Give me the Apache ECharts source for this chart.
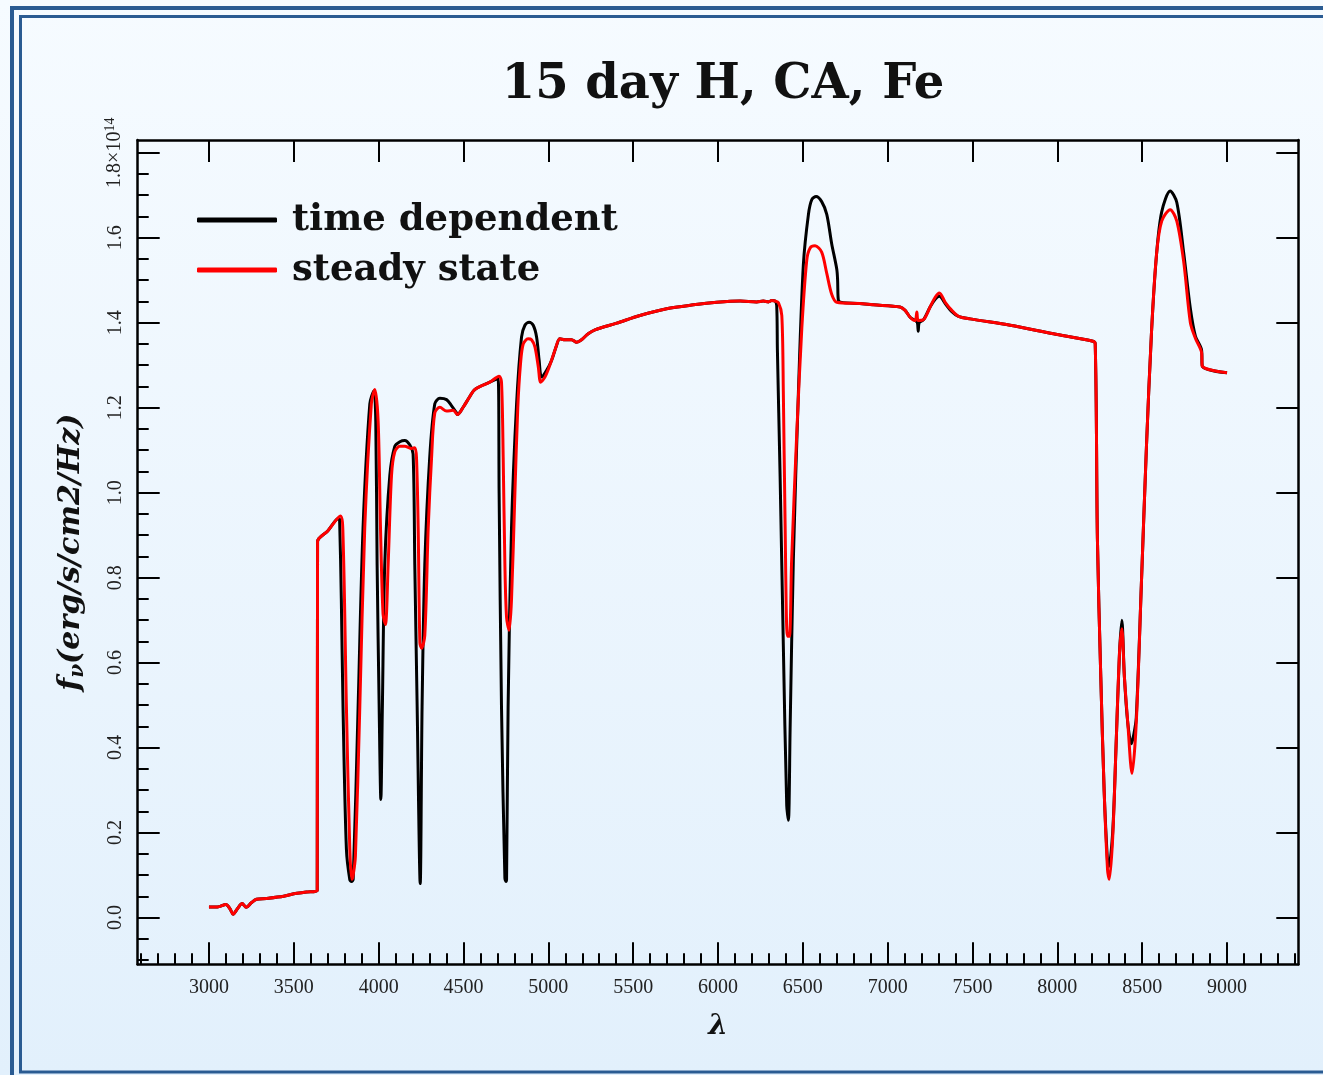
<!DOCTYPE html>
<html>
<head>
<meta charset="utf-8">
<script src="https://cdn.jsdelivr.net/npm/echarts@6/dist/echarts.min.js"></script>
<style>
  html, body { margin: 0; padding: 0; }
  #chart { width: 1323px; height: 1075px; }
</style>
</head>
<body>
<div id="chart"></div>
<script>
// wavelength (Angstrom) / flux (x1e14)
const tdWave = [3000, 3050, 3100, 3125, 3142, 3170, 3195, 3220, 3250, 3280, 3340, 3440, 3500, 3575, 3638,
  3640, 3700, 3765, 3770, 3780, 3790, 3810, 3830, 3840, 3850, 3879, 3908, 3948, 3972, 3983, 3991, 4003, 4013,
  4022, 4036, 4066, 4095, 4125, 4154, 4184, 4203, 4213, 4227, 4245, 4256, 4272, 4301, 4331, 4361, 4400, 4429,
  4459, 4465, 4498, 4537, 4567, 4655, 4704, 4710, 4724, 4744, 4750, 4754, 4763, 4783, 4813, 4842, 4862, 4887,
  4911, 4931, 4946, 4960, 4990, 5019, 5049, 5068, 5098, 5137, 5167, 5196, 5235, 5275, 5403, 5540, 5697, 5855,
  5992, 6130, 6228, 6267, 6297, 6317, 6336, 6346, 6350, 6366, 6385, 6405, 6415, 6425, 6444, 6474, 6503, 6533,
  6553, 6578, 6611, 6641, 6670, 6700, 6705, 6710, 6836, 6916, 7073, 7103, 7132, 7162, 7175, 7180, 7186, 7211,
  7250, 7280, 7305, 7339, 7378, 7417, 7486, 7722, 7977, 8204, 8223, 8236, 8256, 8276, 8296, 8303, 8326, 8346,
  8366, 8380, 8395, 8415, 8436, 8450, 8465, 8495, 8525, 8555, 8585, 8615, 8665, 8704, 8745, 8784, 8814, 8850,
  8854, 9000]
const tdFlux = [0.025, 0.025, 0.031, 0.02, 0.008, 0.022, 0.033, 0.024, 0.035, 0.043, 0.045, 0.050, 0.056, 0.060, 0.064,
  0.885, 0.91, 0.940, 0.935, 0.75, 0.496, 0.161, 0.089, 0.085, 0.09, 0.496, 0.916, 1.209, 1.24, 1.168, 0.831, 0.496, 0.278,
  0.496, 0.831, 1.041, 1.109, 1.12, 1.123, 1.112, 1.091, 0.831, 0.496, 0.08, 0.496, 0.831, 1.083, 1.209, 1.222, 1.219, 1.205,
  1.188, 1.184, 1.201, 1.226, 1.243, 1.26, 1.268, 0.999, 0.496, 0.093, 0.085, 0.09, 0.496, 0.916, 1.209, 1.366, 1.394, 1.401,
  1.394, 1.366, 1.311, 1.272, 1.288, 1.311, 1.347, 1.362, 1.36, 1.36, 1.354, 1.36, 1.374, 1.383, 1.399, 1.417, 1.433, 1.442,
  1.448, 1.451, 1.449, 1.451, 1.449, 1.452, 1.451, 1.44, 1.337, 1.039, 0.641, 0.264, 0.229, 0.443, 0.841, 1.238, 1.536, 1.655,
  1.69, 1.697, 1.685, 1.655, 1.586, 1.526, 1.5, 1.452, 1.445, 1.442, 1.437, 1.429, 1.413, 1.405, 1.40, 1.38, 1.40, 1.407,
  1.437, 1.455, 1.462, 1.445, 1.426, 1.415, 1.409, 1.394, 1.374, 1.357, 1.351, 0.892, 0.566, 0.296, 0.13, 0.12, 0.2, 0.404,
  0.621, 0.70, 0.567, 0.458, 0.409, 0.43, 0.47, 0.783, 1.108, 1.379, 1.563, 1.661, 1.71, 1.683, 1.563, 1.433, 1.368, 1.336,
  1.298, 1.282]

const ssWave = [3000, 3050, 3100, 3125, 3142, 3170, 3195, 3220, 3250, 3280, 3340, 3440, 3500, 3575, 3638,
  3640, 3700, 3775, 3790, 3810, 3830, 3842, 3850, 3863, 3889, 3918, 3957, 3977, 3997, 4011, 4026, 4040, 4056,
  4076, 4095, 4125, 4154, 4194, 4213, 4223, 4233, 4243, 4253, 4272, 4292, 4312, 4331, 4361, 4400, 4439, 4465,
  4498, 4537, 4567, 4655, 4710, 4724, 4734, 4744, 4754, 4769, 4783, 4803, 4820, 4836, 4852, 4881, 4901, 4921,
  4941, 4955, 4980, 5009, 5039, 5068, 5098, 5137, 5167, 5196, 5235, 5275, 5403, 5540, 5697, 5855, 5992, 6130,
  6228, 6267, 6297, 6317, 6336, 6356, 6376, 6385, 6395, 6409, 6421, 6434, 6464, 6494, 6523, 6543, 6572, 6611,
  6641, 6670, 6700, 6836, 6916, 7073, 7103, 7132, 7162, 7172, 7180, 7211, 7250, 7280, 7305, 7339, 7378, 7417,
  7486, 7722, 7977, 8204, 8223, 8236, 8256, 8276, 8296, 8306, 8326, 8346, 8366, 8380, 8395, 8415, 8440, 8465,
  8495, 8525, 8555, 8585, 8615, 8665, 8704, 8745, 8784, 8814, 8850, 8854, 9000]
const ssFlux = [0.025, 0.025, 0.031, 0.02, 0.008, 0.022, 0.033, 0.024, 0.035, 0.043, 0.045, 0.050, 0.056, 0.060, 0.064,
  0.885, 0.91, 0.945, 0.899, 0.496, 0.161, 0.09, 0.1, 0.144, 0.496, 0.916, 1.209, 1.243, 1.168, 0.916, 0.714, 0.69, 0.831,
  1.041, 1.096, 1.109, 1.109, 1.104, 1.106, 1.083, 0.916, 0.647, 0.634, 0.664, 0.916, 1.083, 1.188, 1.201, 1.192, 1.194, 1.184,
  1.201, 1.226, 1.243, 1.26, 1.274, 1.26, 1.083, 0.831, 0.706, 0.676, 0.748, 0.999, 1.2, 1.303, 1.35, 1.362, 1.36, 1.343,
  1.296, 1.26, 1.272, 1.3, 1.335, 1.362, 1.36, 1.36, 1.354, 1.36, 1.374, 1.383, 1.399, 1.417, 1.433, 1.442, 1.448, 1.451,
  1.449, 1.451, 1.449, 1.452, 1.451, 1.447, 1.417, 1.238, 0.94, 0.662, 0.662, 0.841, 1.138, 1.387, 1.547, 1.576, 1.581, 1.566,
  1.516, 1.467, 1.448, 1.445, 1.442, 1.437, 1.429, 1.413, 1.405, 1.425, 1.405, 1.407, 1.437, 1.46, 1.47, 1.448, 1.429, 1.415,
  1.409, 1.394, 1.374, 1.357, 1.351, 0.892, 0.566, 0.296, 0.111, 0.09, 0.187, 0.404, 0.621, 0.68, 0.567, 0.458, 0.339, 0.458,
  0.783, 1.108, 1.379, 1.563, 1.639, 1.666, 1.639, 1.542, 1.4, 1.363, 1.33, 1.298, 1.282]

const xMajor = [3000, 3500, 4000, 4500, 5000, 5500, 6000, 6500, 7000, 7500, 8000, 8500, 9000]
const yMajor = [0, 0.2, 0.4, 0.6, 0.8, 1.0, 1.2, 1.4, 1.6, 1.8]
const xMinor = []
for (let v = 2600; v <= 9400; v += 100) xMinor.push(v)
const yMinor = []
for (let i = -2; i <= 36; i++) yMinor.push(i * 0.05)

const SERIF = 'Liberation Serif'
const X_MIN = 2580
const X_MAX = 9420
const Y_MIN = -0.11
const Y_MAX = 1.83

const chart = echarts.init(document.getElementById('chart'))

const axisLineStyle = { show: true, onZero: false, lineStyle: { color: '#000', width: 2.5 } }
const noLine = { show: false, onZero: false }
const majorTick = (vals) => ({ show: true, inside: true, length: 22, lineStyle: { color: '#000', width: 2 }, customValues: vals })
const minorTick = (vals) => ({ show: true, inside: true, length: 11, lineStyle: { color: '#000', width: 2 }, customValues: vals })
const nameFont = { fontFamily: 'DejaVu Serif', fontStyle: 'italic', fontWeight: 'bold', color: '#111' }

const option = {
  animation: false,
  backgroundColor: new echarts.graphic.LinearGradient(0, 0, 0, 1, [
    { offset: 0, color: '#f6fbff' },
    { offset: 1, color: '#e2f0fc' }
  ]),
  graphic: [
    { type: 'rect', shape: { x: 12, y: 8, width: 1400, height: 1200 }, style: { fill: 'none', stroke: '#2a5b92', lineWidth: 4 } },
    { type: 'rect', shape: { x: 20.5, y: 16.5, width: 1400, height: 1055.5 }, style: { fill: 'none', stroke: '#2a5b92', lineWidth: 3 } }
  ],
  title: {
    text: '15 day H, CA, Fe',
    left: 718,
    textAlign: 'center',
    top: 57,
    textStyle: { fontFamily: 'DejaVu Serif', fontWeight: 'bold', fontSize: 48, color: '#111' }
  },
  legend: {
    orient: 'vertical',
    left: 197,
    top: 195,
    padding: 0,
    itemWidth: 80,
    itemHeight: 5,
    itemGap: 0,
    icon: 'roundRect',
    data: ['time dependent', 'steady state'],
    textStyle: { fontFamily: 'DejaVu Serif', fontWeight: 'bold', fontSize: 37, lineHeight: 50, color: '#111', padding: [0, 0, 0, 10] }
  },
  grid: { left: 137.7, right: 24.7, top: 140, bottom: 110.7, containLabel: false },
  xAxis: [
    {
      type: 'value', min: X_MIN, max: X_MAX, position: 'bottom',
      axisLine: axisLineStyle,
      axisTick: majorTick(xMajor),
      axisLabel: { customValues: xMajor, margin: 13, fontFamily: SERIF, fontSize: 20, color: '#222', formatter: (v) => String(Math.round(v)) },
      splitLine: { show: false },
      name: 'λ', nameLocation: 'middle', nameGap: 48,
      nameTextStyle: Object.assign({ fontSize: 28 }, nameFont)
    },
    {
      type: 'value', min: X_MIN, max: X_MAX, position: 'bottom',
      axisLine: noLine, axisTick: minorTick(xMinor), axisLabel: { show: false }, splitLine: { show: false }
    },
    {
      type: 'value', min: X_MIN, max: X_MAX, position: 'top',
      axisLine: axisLineStyle, axisTick: majorTick(xMajor), axisLabel: { show: false }, splitLine: { show: false }
    }
  ],
  yAxis: [
    {
      type: 'value', min: Y_MIN, max: Y_MAX, position: 'left',
      axisLine: axisLineStyle,
      axisTick: majorTick(yMajor),
      axisLabel: {
        customValues: yMajor, rotate: 90, margin: 12, fontFamily: SERIF, fontSize: 20, color: '#222',
        formatter: (v) => Math.abs(v - 1.8) < 1e-6 ? '{b|1.8×10}{s|14}' : v.toFixed(1),
        rich: {
          b: { fontFamily: SERIF, fontSize: 20, color: '#222' },
          s: { fontFamily: SERIF, fontSize: 14, color: '#222', verticalAlign: 'top', padding: [0, 0, 8, 0] }
        }
      },
      splitLine: { show: false },
      name: '{f|f}{v|ν}{r|(erg/s/cm2/Hz)}', nameLocation: 'middle', nameRotate: 90, nameGap: 50,
      nameTextStyle: {
        rich: {
          f: Object.assign({ fontSize: 30 }, nameFont),
          v: Object.assign({ fontSize: 20, verticalAlign: 'bottom', padding: [12, 0, 0, 0] }, nameFont),
          r: Object.assign({ fontSize: 30 }, nameFont)
        }
      }
    },
    {
      type: 'value', min: Y_MIN, max: Y_MAX, position: 'left',
      axisLine: noLine, axisTick: minorTick(yMinor), axisLabel: { show: false }, splitLine: { show: false }
    },
    {
      type: 'value', min: Y_MIN, max: Y_MAX, position: 'right',
      axisLine: axisLineStyle, axisTick: majorTick(yMajor), axisLabel: { show: false }, splitLine: { show: false }
    }
  ],
  series: [
    {
      name: 'time dependent', type: 'line', xAxisIndex: 0, yAxisIndex: 0,
      data: tdWave.map((w, i) => [w, tdFlux[i]]),
      symbol: 'none', smooth: 0.3, itemStyle: { color: '#000' },
      lineStyle: { color: '#000', width: 3, join: 'round' }
    },
    {
      name: 'steady state', type: 'line', xAxisIndex: 0, yAxisIndex: 0,
      data: ssWave.map((w, i) => [w, ssFlux[i]]),
      symbol: 'none', smooth: 0.3, itemStyle: { color: '#ff0000' },
      lineStyle: { color: '#ff0000', width: 3, join: 'round' }
    }
  ]
}

chart.setOption(option)
</script>
</body>
</html>
